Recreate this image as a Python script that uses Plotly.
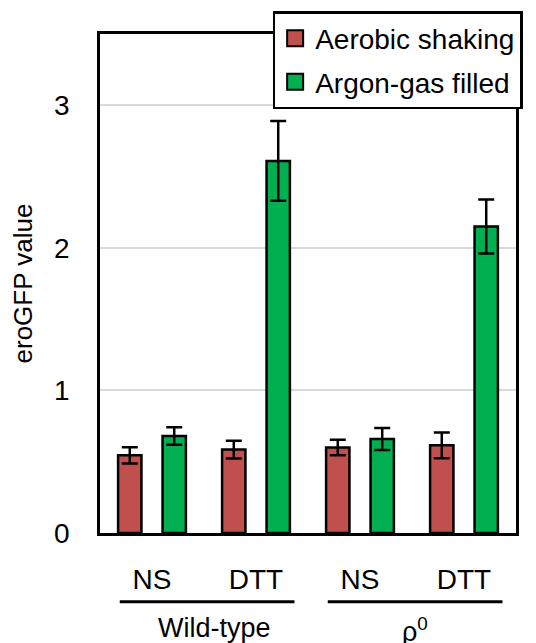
import plotly.graph_objects as go

# ---- data ----
conditions = ["NS", "DTT", "NS", "DTT"]
strains = ["Wild-type", "ρ<sup>0</sup>"]
strain_of_condition = [0, 0, 1, 1]
aerobic = [0.545, 0.585, 0.60, 0.615]
aerobic_err = [0.057, 0.062, 0.054, 0.09]
argon = [0.68, 2.61, 0.66, 2.15]
argon_err = [0.061, 0.28, 0.077, 0.19]
series_names = ["Aerobic shaking", "Argon-gas filled"]
colors = ["#C0504D", "#00B050"]
yticks = [0, 1, 2, 3]

FONT = "Liberation Sans, Arial, sans-serif"
xpos = list(range(len(conditions)))
label_shift = [0.1, 0.03]  # horizontal nudge of group labels (category units)

fig = go.Figure()
for name, vals, errs, col in zip(series_names, [aerobic, argon], [aerobic_err, argon_err], colors):
    fig.add_trace(go.Bar(
        x=xpos, y=vals, name=name, showlegend=False, legendgroup=name,
        marker=dict(color=col, line=dict(color="black", width=2.5)),
        error_y=dict(type="data", array=errs, visible=True, color="black",
                     thickness=2.5, width=8),
    ))
    # legend entry with a larger square swatch
    fig.add_trace(go.Scatter(
        x=[None], y=[None], mode="markers", name=name, legendgroup=name,
        marker=dict(symbol="square", size=16, color=col,
                    line=dict(color="black", width=2)),
    ))

# group underline + labels
for gi, gname in enumerate(strains):
    idx = [i for i, s in enumerate(strain_of_condition) if s == gi]
    x0, x1 = min(idx) - 0.31, max(idx) + 0.37
    fig.add_shape(type="line", xref="x", yref="paper", x0=x0, x1=x1,
                  y0=-0.138, y1=-0.138, line=dict(color="black", width=3))
    fig.add_annotation(x=(min(idx) + max(idx)) / 2 + label_shift[gi], y=-0.156,
                       xref="x", yref="paper",
                       text=gname, showarrow=False, yanchor="top",
                       font=dict(size=27, color="black", family=FONT))

fig.update_layout(
    width=528, height=635,
    margin=dict(l=92, r=20, t=26, b=110, autoexpand=False),
    paper_bgcolor="white", plot_bgcolor="white",
    barmode="group", bargap=0.145, bargroupgap=0.475,
    font=dict(family=FONT, size=27, color="black"),
    showlegend=True,
    legend=dict(x=0.415, y=1.046, xanchor="left", yanchor="top",
                bgcolor="white", bordercolor="black", borderwidth=2.5,
                font=dict(size=28, family=FONT, color="black"),
                itemsizing="trace", tracegroupgap=4, itemwidth=30,
                entrywidth=232, entrywidthmode="pixels"),
)
fig.update_xaxes(
    tickmode="array", tickvals=xpos, ticktext=conditions,
    range=[-0.5, len(conditions) - 0.5],
    showline=True, linecolor="black", linewidth=2.5, mirror=True,
    ticks="", showgrid=False, zeroline=False,
    ticklabelstandoff=20, tickfont=dict(size=28),
)
fig.update_yaxes(
    range=[0, 3.5], tickvals=yticks, ticktext=[str(t) for t in yticks],
    showline=True, linecolor="black", linewidth=2.5, mirror=True,
    showgrid=True, gridcolor="#D9D9D9", gridwidth=2, zeroline=False,
    ticks="", ticklabelstandoff=22, tickfont=dict(size=28),
    title=dict(text="eroGFP value", font=dict(size=26), standoff=16),
)

fig.write_html("out.html")
